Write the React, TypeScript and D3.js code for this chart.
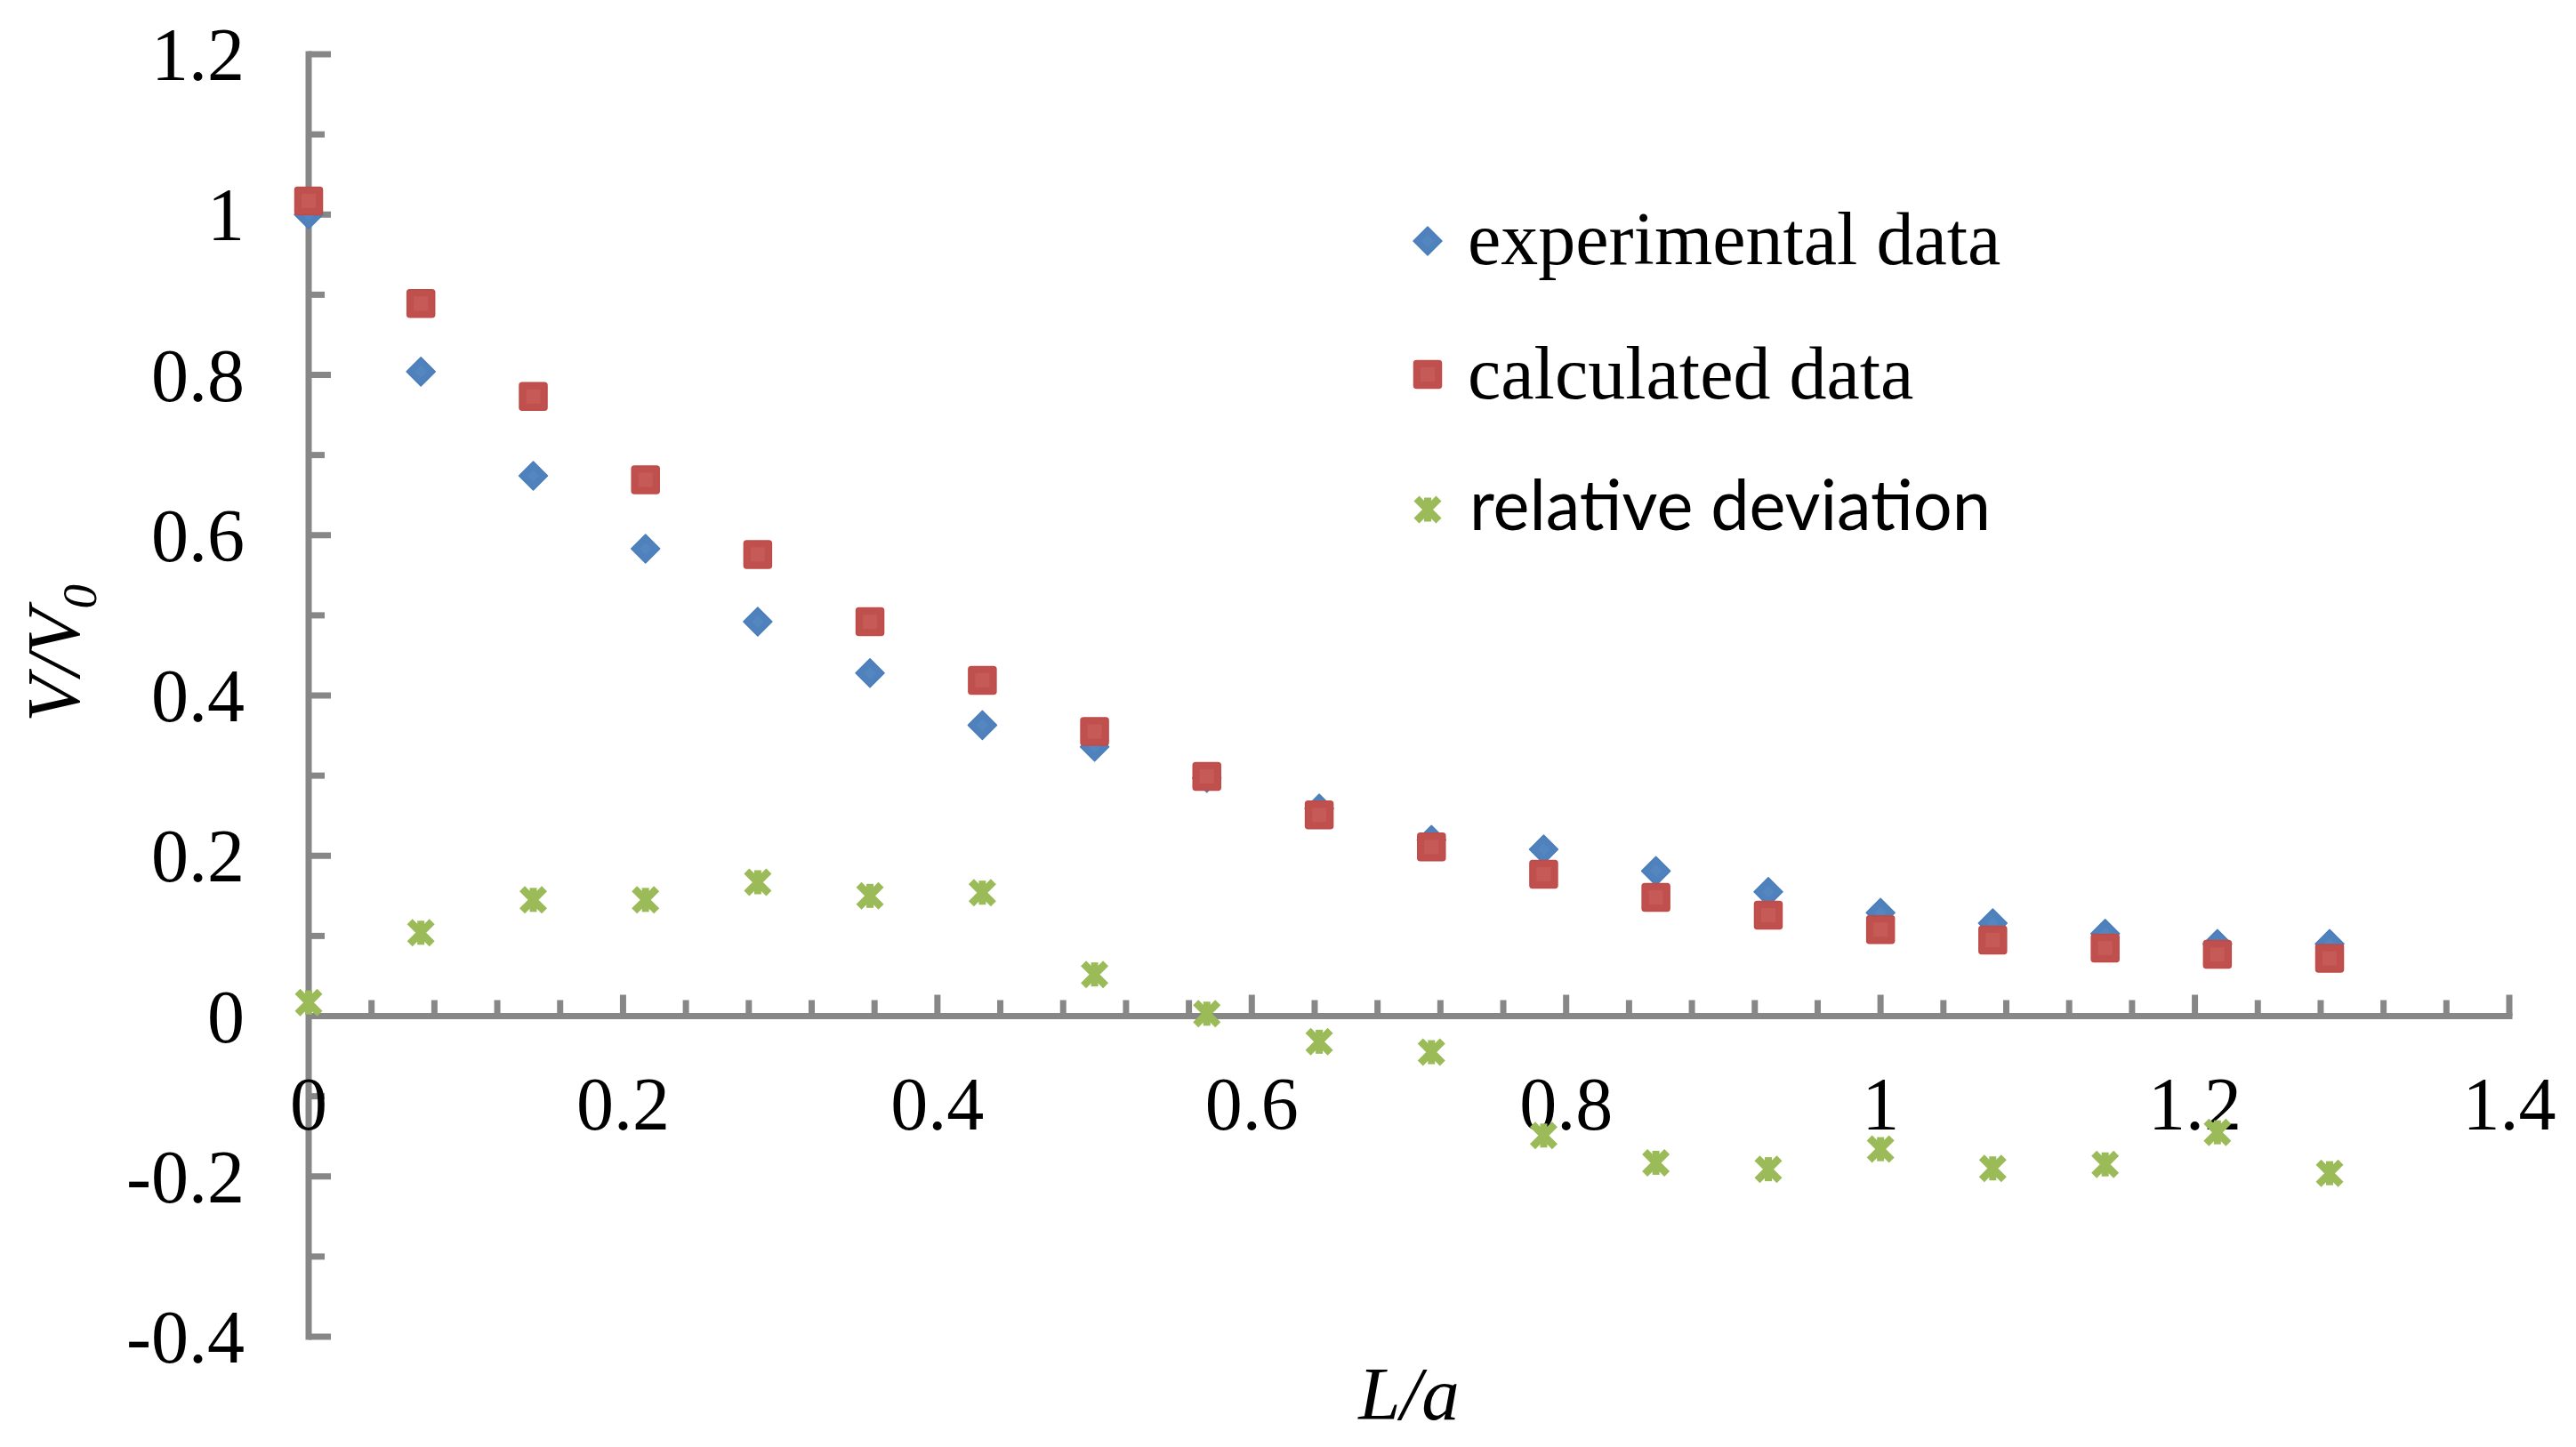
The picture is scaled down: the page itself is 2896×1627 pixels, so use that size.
import React from 'react';
import * as d3 from 'd3';

// L/a positions of the measurement points
const L_A = [
  0, 0.0714, 0.1429, 0.2143, 0.2857, 0.3571, 0.4286, 0.5, 0.5714, 0.6429,
  0.7143, 0.7857, 0.8571, 0.9286, 1.0, 1.0714, 1.1429, 1.2143, 1.2857,
];
const EXPERIMENTAL = [
  1.0, 0.804, 0.674, 0.583, 0.492, 0.428, 0.363, 0.336, 0.297, 0.259,
  0.22, 0.208, 0.181, 0.155, 0.129, 0.116, 0.103, 0.09, 0.09,
];
const CALCULATED = [
  1.017, 0.889, 0.773, 0.669, 0.576, 0.492, 0.419, 0.355, 0.299, 0.251,
  0.211, 0.177, 0.148, 0.126, 0.108, 0.095, 0.085, 0.077, 0.072,
];
const DEVIATION = [
  0.017, 0.104, 0.145, 0.145, 0.167, 0.15, 0.154, 0.052, 0.003, -0.032,
  -0.045, -0.149, -0.183, -0.191, -0.166, -0.19, -0.185, -0.145, -0.196,
];

const SERIES_NAMES = ['experimental data', 'calculated data', 'relative deviation'];
const X_TICKS = [0, 0.2, 0.4, 0.6, 0.8, 1, 1.2, 1.4];
const X_TICK_LABELS = ['0', '0.2', '0.4', '0.6', '0.8', '1', '1.2', '1.4'];
const Y_TICKS = [-0.4, -0.2, 0, 0.2, 0.4, 0.6, 0.8, 1, 1.2];
const Y_TICK_LABELS = ['-0.4', '-0.2', '0', '0.2', '0.4', '0.6', '0.8', '1', '1.2'];

const W = 2896;
const H = 1627;
const AXIS = '#878787';
const BLUE = '#4F81BD';
const RED = '#C0504D';
const GREEN = '#9BBB59';
const SERIF = '"Liberation Serif", "Times New Roman", serif';

const x = d3.scaleLinear().domain([0, 1.4]).range([347, 2821]);
const y = d3.scaleLinear().domain([-0.4, 1.2]).range([1503, 61]);

const xMinor = d3.range(0.04, 1.4, 0.04).filter((v) => Math.abs(v / 0.2 - Math.round(v / 0.2)) > 1e-6);
const yMinor = d3.range(-0.3, 1.2, 0.2);

function Diamond({ cx, cy }: { cx: number; cy: number }) {
  return (
    <g transform={`translate(${cx},${cy})`}>
      <path d="M0,-16L16,0L0,16L-16,0Z" fill={BLUE} stroke="#4A7EBB" strokeWidth={1.5} strokeLinejoin="round" />
      <path d="M0,-7L7,0L0,7L-7,0Z" fill="#5486C0" />
    </g>
  );
}

function Square({ cx, cy }: { cx: number; cy: number }) {
  return (
    <g transform={`translate(${cx},${cy})`}>
      <rect x={-15.5} y={-15.5} width={31} height={31} rx={3} fill={RED} stroke="#BE4B48" strokeWidth={1.5} />
      <rect x={-8} y={-8} width={16} height={16} fill="#C55A57" />
    </g>
  );
}

function Star({ cx, cy }: { cx: number; cy: number }) {
  return (
    <g transform={`translate(${cx},${cy})`} stroke={GREEN} strokeWidth={8.5} fill="none">
      <path d="M-12.5,-12.5L12.5,12.5M12.5,-12.5L-12.5,12.5" />
      <path d="M0,-13.5L0,13.5" strokeWidth={8} />
    </g>
  );
}

export default function App() {
  const y0 = y(0);
  return (
    <svg
      width={W}
      height={H}
      viewBox={`0 0 ${W} ${H}`}
      style={{ position: 'absolute', left: 0, top: 0, background: '#fff' }}
    >
      <rect width={W} height={H} fill="#fff" />

      {/* Y axis */}
      <line x1={x(0)} x2={x(0)} y1={y(1.2) - 3.5} y2={y(-0.4) + 3.5} stroke={AXIS} strokeWidth={7} />
      {Y_TICKS.filter((t) => t !== 0).map((t) => (
        <line key={`ym${t}`} x1={x(0)} x2={x(0) + 25} y1={y(t)} y2={y(t)} stroke={AXIS} strokeWidth={7} />
      ))}
      {yMinor.map((t) => (
        <line key={`yn${t}`} x1={x(0)} x2={x(0) + 18} y1={y(t)} y2={y(t)} stroke={AXIS} strokeWidth={7} />
      ))}

      {/* X axis, crossing at 0 */}
      <line x1={x(0)} x2={x(1.4) + 3.5} y1={y0} y2={y0} stroke={AXIS} strokeWidth={7} />
      {X_TICKS.filter((t) => t !== 0).map((t) => (
        <line key={`xm${t}`} x1={x(t)} x2={x(t)} y1={y0} y2={y0 - 24} stroke={AXIS} strokeWidth={7} />
      ))}
      {xMinor.map((t) => (
        <line key={`xn${t}`} x1={x(t)} x2={x(t)} y1={y0} y2={y0 - 18} stroke={AXIS} strokeWidth={7} />
      ))}

      {/* tick labels */}
      {Y_TICKS.map((t, i) => (
        <text key={`yl${t}`} x={275} y={y(t) + 29} textAnchor="end" fontFamily={SERIF} fontSize={84} fill="#000">
          {Y_TICK_LABELS[i]}
        </text>
      ))}
      {X_TICKS.map((t, i) => (
        <text key={`xl${t}`} x={x(t)} y={1270} textAnchor="middle" fontFamily={SERIF} fontSize={84} fill="#000">
          {X_TICK_LABELS[i]}
        </text>
      ))}

      {/* axis titles */}
      <text x={1584} y={1596} textAnchor="middle" fontFamily={SERIF} fontStyle="italic" fontSize={85} fill="#000">
        L/a
      </text>
      <text transform="translate(89,812) rotate(-90)" fontFamily={SERIF} fontStyle="italic" fontSize={85} fill="#000">
        V/V
        <tspan fontSize={55} dy={19}>0</tspan>
      </text>

      {/* series */}
      {L_A.map((v, i) => (
        <Diamond key={`e${i}`} cx={x(v)} cy={y(EXPERIMENTAL[i])} />
      ))}
      {L_A.map((v, i) => (
        <Square key={`c${i}`} cx={x(v)} cy={y(CALCULATED[i])} />
      ))}
      {L_A.map((v, i) => (
        <Star key={`d${i}`} cx={x(v)} cy={y(DEVIATION[i])} />
      ))}

      {/* legend */}
      <Diamond cx={1605} cy={271} />
      <text x={1650} y={297} fontFamily={SERIF} fontSize={84} fill="#000">{SERIES_NAMES[0]}</text>
      <Square cx={1605} cy={421} />
      <text x={1650} y={448} fontFamily={SERIF} fontSize={84} fill="#000">{SERIES_NAMES[1]}</text>
      <Star cx={1605} cy={573} />
      <text
        x={1652}
        y={596}
        fontFamily='Lato, "Open Sans", sans-serif'
        fontSize={80}
        textLength={586}
        lengthAdjust="spacingAndGlyphs"
        fill="#000"
      >
        {SERIES_NAMES[2]}
      </text>
    </svg>
  );
}
